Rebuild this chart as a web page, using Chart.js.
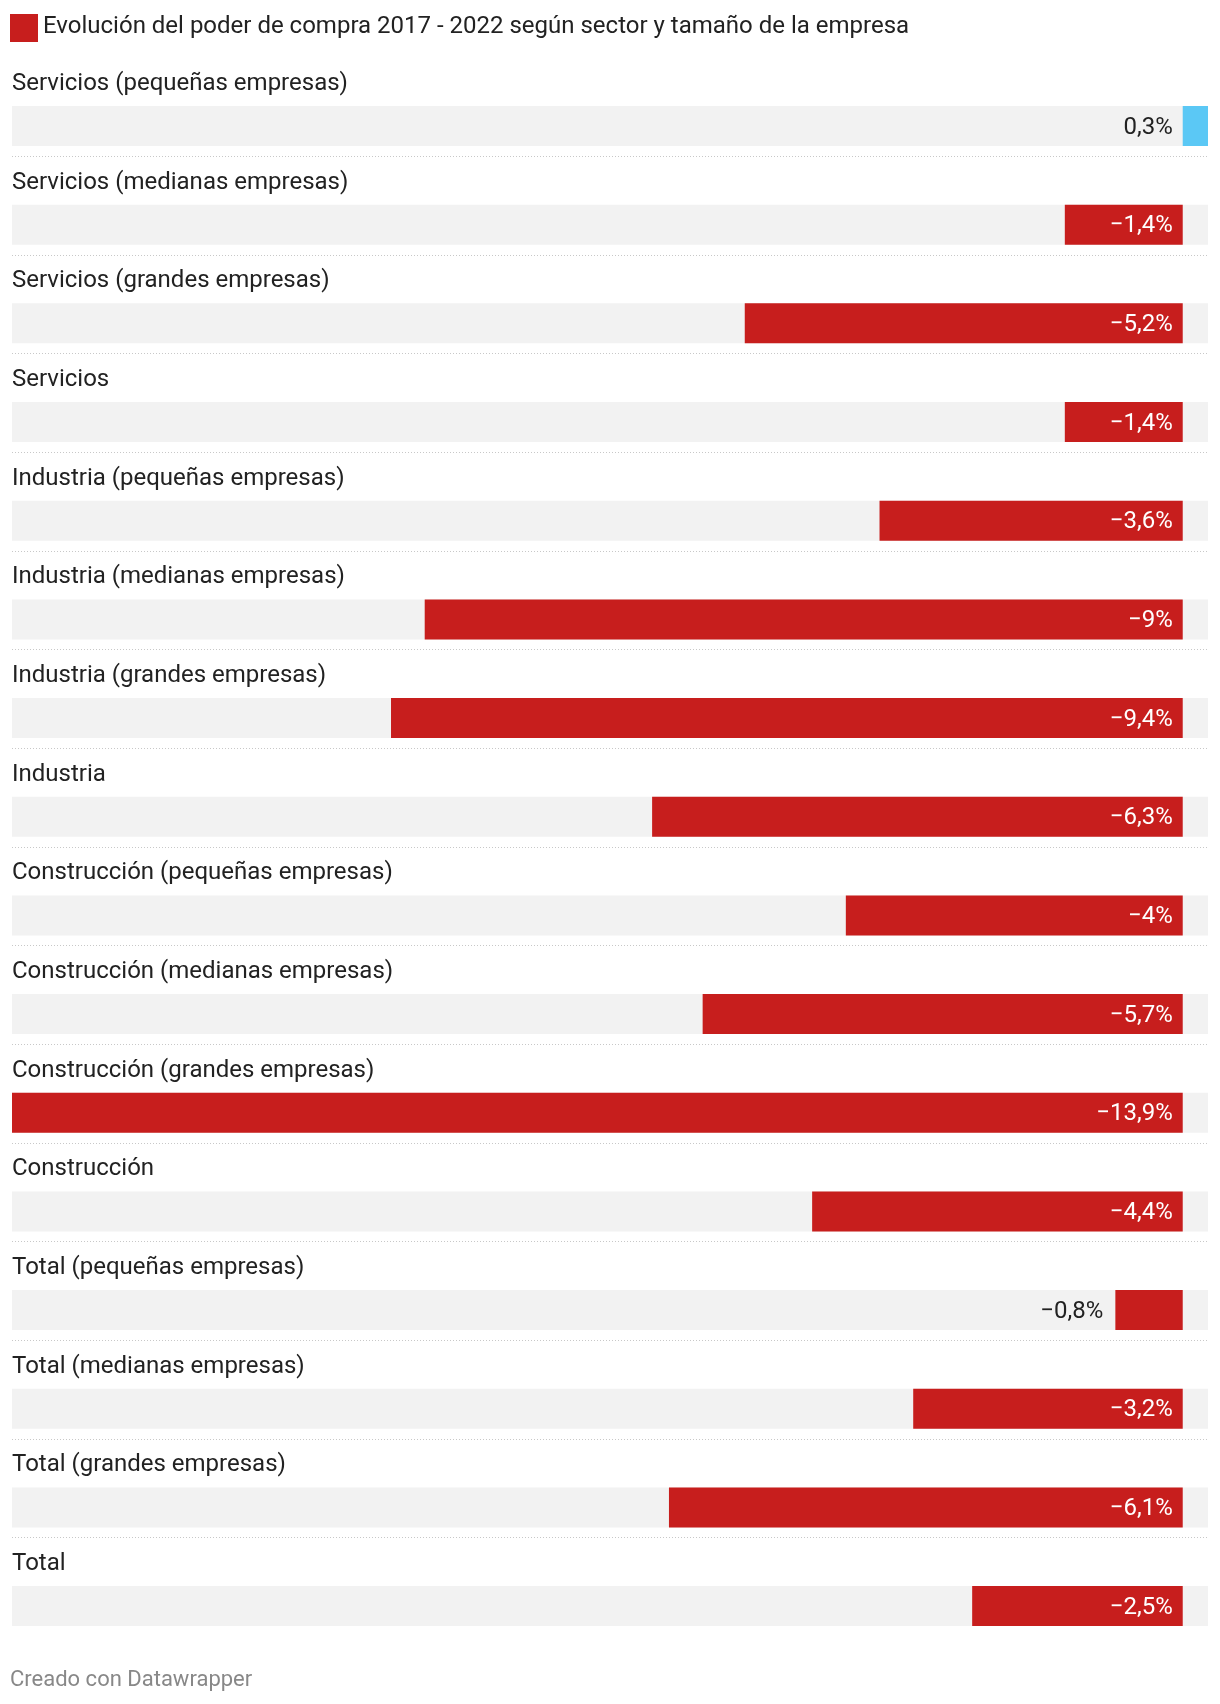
<!DOCTYPE html>
<html>
<head>
<meta charset="utf-8">
<script src="https://cdn.jsdelivr.net/npm/chart.js@4"></script>
<style>
  html, body { margin: 0; padding: 0; background: #ffffff; }
  body { width: 1220px; height: 1704px; position: relative; overflow: hidden; font-family: Roboto, "Noto Sans", sans-serif; }
  #chart { position: absolute; left: 0; top: 0; }
  #legend { position: absolute; left: 10px; top: 14px; width: 28px; height: 28px; background: #c71e1d; }
  #title { position: absolute; left: 43px; top: 11px; font-size: 24px; line-height: 28px; color: #222; white-space: nowrap; }
  #footer { position: absolute; left: 10px; top: 1668px; font-size: 22px; line-height: 22px; color: #888; white-space: nowrap; }
</style>
</head>
<body>
<canvas id="chart" width="1220" height="1704"></canvas>
<div id="legend"></div>
<div id="title">Evolución del poder de compra 2017 - 2022 según sector y tamaño de la empresa</div>
<div id="footer">Creado con Datawrapper</div>
<script>
const categories = [
  "Servicios (pequeñas empresas)",
  "Servicios (medianas empresas)",
  "Servicios (grandes empresas)",
  "Servicios",
  "Industria (pequeñas empresas)",
  "Industria (medianas empresas)",
  "Industria (grandes empresas)",
  "Industria",
  "Construcción (pequeñas empresas)",
  "Construcción (medianas empresas)",
  "Construcción (grandes empresas)",
  "Construcción",
  "Total (pequeñas empresas)",
  "Total (medianas empresas)",
  "Total (grandes empresas)",
  "Total"
];
const values = [0.3, -1.4, -5.2, -1.4, -3.6, -9, -9.4, -6.3, -4, -5.7, -13.9, -4.4, -0.8, -3.2, -6.1, -2.5];

const RED = "#c71e1d";
const BLUE = "#5bc8f5";
const TRACK = "#f2f2f2";

const xMin = Math.min(0, ...values);
const xMax = Math.max(0, ...values);
const trackData = categories.map(() => [xMin, xMax]);

function fmt(v) {
  const s = Math.abs(v).toLocaleString("es-ES", { maximumFractionDigits: 1 }).replace(".", ",");
  return (v < 0 ? "\u2212" : "") + s + "%";
}

const ROW = 1578.7 / categories.length;
const BAR_H = 40;
const FONT = "24px Roboto, 'Noto Sans', sans-serif";

const rowPlugin = {
  id: "rowPlugin",
  afterDatasetsDraw(chart) {
    const ctx = chart.ctx;
    const xs = chart.scales.x;
    const meta = chart.getDatasetMeta(1);
    const zero = xs.getPixelForValue(0);
    ctx.save();
    meta.data.forEach((bar, i) => {
      const top = bar.y - bar.height / 2;
      const bottom = bar.y + bar.height / 2;
      // category label above the bar
      ctx.font = FONT;
      ctx.textAlign = "left";
      ctx.textBaseline = "alphabetic";
      ctx.fillStyle = "#222";
      ctx.fillText(categories[i], chart.chartArea.left, top - 16);
      // dotted separator
      if (i < categories.length - 1) {
        ctx.beginPath();
        ctx.setLineDash([1, 2]);
        ctx.lineWidth = 1;
        ctx.strokeStyle = "#c8c8c8";
        const ly = Math.round(bottom + 10) + 0.5;
        ctx.moveTo(chart.chartArea.left, ly);
        ctx.lineTo(chart.chartArea.right, ly);
        ctx.stroke();
        ctx.setLineDash([]);
      }
      // value label
      const v = values[i];
      const txt = fmt(v);
      ctx.textAlign = "right";
      const tw = ctx.measureText(txt).width;
      const by = bar.y + 7.5;
      if (v >= 0) {
        ctx.fillStyle = "#222";
        ctx.fillText(txt, zero - 10, by);
      } else {
        const left = xs.getPixelForValue(v);
        if (zero - left >= tw + 20) {
          ctx.fillStyle = "#ffffff";
          ctx.fillText(txt, zero - 10, by);
        } else {
          ctx.fillStyle = "#222";
          ctx.fillText(txt, left - 12, by);
        }
      }
    });
    ctx.restore();
  }
};

new Chart(document.getElementById("chart"), {
  type: "bar",
  data: {
    labels: categories,
    datasets: [
      {
        data: trackData,
        backgroundColor: TRACK,
        order: 2,
        grouped: false,
        barPercentage: 1,
        categoryPercentage: BAR_H / ROW
      },
      {
        data: values,
        backgroundColor: values.map(v => (v >= 0 ? BLUE : RED)),
        order: 1,
        grouped: false,
        barPercentage: 1,
        categoryPercentage: BAR_H / ROW
      }
    ]
  },
  options: {
    indexAxis: "y",
    responsive: false,
    animation: false,
    devicePixelRatio: 1,
    layout: { padding: { top: 76.7, bottom: 48.6, left: 12, right: 12 } },
    scales: {
      x: { type: "linear", min: xMin, max: xMax, display: false },
      y: { display: false }
    },
    plugins: { legend: { display: false }, tooltip: { enabled: false } }
  },
  plugins: [rowPlugin]
});
</script>
</body>
</html>
